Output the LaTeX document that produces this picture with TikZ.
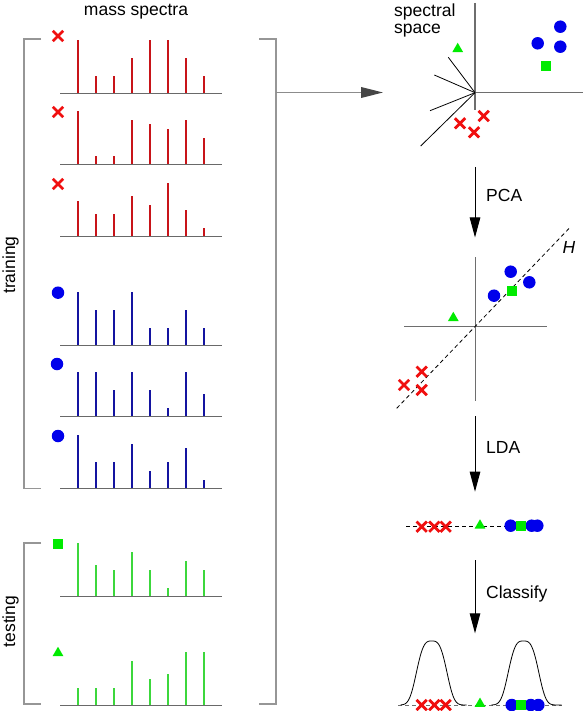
\documentclass[tikz,border=0pt]{standalone}
\usepackage{fontspec}
\setmainfont{Liberation Sans}
\usetikzlibrary{shapes.misc,shapes.geometric,arrows.meta}
\definecolor{specred}{RGB}{200,20,25}
\definecolor{mkred}{RGB}{240,15,15}
\definecolor{specblue}{RGB}{20,20,160}
\definecolor{mkblue}{RGB}{0,0,235}
\definecolor{specgreen}{RGB}{60,215,60}
\definecolor{mkgreen}{RGB}{0,235,0}
\definecolor{basegray}{RGB}{105,105,105}
\definecolor{brgray}{RGB}{150,150,150}
\definecolor{axgray}{RGB}{110,110,110}
\definecolor{arrgray}{RGB}{140,140,140}
\definecolor{headgray}{RGB}{70,70,70}
\newcommand\drawSpec[3]{%
  \foreach \h [count=\i] in {#3} \draw[#2, line width=1.4pt] ({60+18*\i},#1) -- ++(0,{-4.47*\h});
  \draw[specbase] (60,#1) -- (222,#1);
}
\tikzset{
  lbl/.style={font=\fontsize{17.5}{20}\selectfont, inner sep=0pt},
  specbase/.style={draw=basegray, line width=1.5pt},
  bracket/.style={draw=brgray, line width=1.3pt},
  axis/.style={draw=axgray, line width=1.5pt},
  ray/.style={draw=black, line width=0.8pt},
  hline/.style={draw=black, line width=0.8pt, dash pattern=on 4pt off 3pt},
  flow/.style={draw=black, line width=1pt, -{Triangle[length=20pt,width=10.5pt]}},
  graylink/.style={draw=arrgray, line width=1.3pt, -{Triangle[length=22pt,width=10.7pt,color=headgray]}},
  redx/.style={draw=mkred, cross out, line width=2.8pt, minimum size=7.5pt, inner sep=0pt},
  bdot/.style={circle, fill=mkblue, minimum size=12.5pt, inner sep=0pt},
  gsq/.style={rectangle, fill=mkgreen, minimum size=10pt, inner sep=0pt},
  gtri/.style={regular polygon, regular polygon sides=3, fill=mkgreen, minimum size=12.5pt, inner sep=0pt},
  gauss/.style={draw=black, line width=0.8pt},
}
\begin{document}
\begin{tikzpicture}[x=1pt,y=-1pt]
\useasboundingbox (0,0) rectangle (583,711);
% titles
\node[lbl, anchor=base] (title) at (136,16) {mass spectra};
\node[lbl, anchor=base, rotate=90] (train) at (15,265) {training};
\node[lbl, anchor=base, rotate=90] (test) at (15,621.5) {testing};
% brackets
\draw[bracket] (41,39) -- (24,39) -- (24,488.7) -- (41,488.7);
\draw[bracket] (41,543) -- (24,543) -- (24,704) -- (41,704);
\draw[bracket] (259,39) -- (276,39) -- (276,704) -- (259,704);
% spectra
\drawSpec{93.7}{specred}{12,4,4,8,12,12,8,4}
\drawSpec{164.7}{specred}{12,2,2,10,9,8,10,6}
\drawSpec{236.7}{specred}{8,5,5,9,7,12,6,2}
\drawSpec{345.7}{specblue}{12,8,8,12,4,4,8,4}
\drawSpec{416.7}{specblue}{10,10,6,10,6,2,10,5}
\drawSpec{488.7}{specblue}{12,6,6,10,4,6,9,2}
\drawSpec{596.7}{specgreen}{12,7,6,10,6,2,8,6}
\drawSpec{705.7}{specgreen}{4,4,4,10,6,7,12,12}
% spectrum markers
\node[redx] (s1) at (58,36) {};
\node[redx] (s2) at (58,112) {};
\node[redx] (s3) at (58,184) {};
\node[bdot] (s4) at (58,292.7) {};
\node[bdot] (s5) at (57,364) {};
\node[bdot] (s6) at (58,436) {};
\node[gsq] (s7) at (58,543.7) {};
\node[gtri] (s8) at (58,653) {};
% link arrow
\coordinate (brk) at (276,92.5);
\coordinate (ssp) at (383,92.5);
\draw[graylink] (brk) -- (ssp);
% panel 1: spectral space
\node[lbl, anchor=base west] (sp1) at (394,16.7) {spectral};
\node[lbl, anchor=base west] (sp2) at (394,33.3) {space};
\coordinate (o1) at (475,92.7);
\draw[axis] (475,3) -- (475,110);
\draw[axis] (o1) -- (583,92.7);
\draw[ray] (o1) -- (448.3,57.3);
\draw[ray] (o1) -- (434.3,75);
\draw[ray] (o1) -- (430,110.7);
\draw[ray] (o1) -- (420.7,146);
\node[gtri] (a1) at (457.7,49) {};
\node[bdot] (a2) at (560.3,26.7) {};
\node[bdot] (a3) at (537.7,43.3) {};
\node[bdot] (a4) at (560.3,46.7) {};
\node[gsq] (a5) at (545.7,65.7) {};
\node[redx] (a6) at (483.7,116) {};
\node[redx] (a7) at (460,123.3) {};
\node[redx] (a8) at (474,132.3) {};
% PCA arrow
\coordinate (p1s) at (475,167);
\coordinate (p1e) at (475,237.5);
\draw[flow] (p1s) -- (p1e);
\node[lbl, anchor=base west] (pca) at (486,201.7) {PCA};
% panel 2
\draw[axis] (404,326.7) -- (547.3,326.7);
\draw[axis] (475.7,257.3) -- (475.7,400.7);
\coordinate (h1) at (396.7,408.3);
\coordinate (h2) at (570.7,226.7);
\draw[hline] (h1) -- (h2);
\node[lbl, anchor=base, font=\fontsize{17.5}{20}\selectfont\itshape] (hl) at (569,253.3) {H};
\node[bdot] (b1) at (510.7,271.7) {};
\node[bdot] (b2) at (529.3,282.3) {};
\node[bdot] (b3) at (494,295.7) {};
\node[gsq] (b4) at (512,291) {};
\node[gtri] (b5) at (453.3,318) {};
\node[redx] (b6) at (421.7,371.7) {};
\node[redx] (b7) at (404,385) {};
\node[redx] (b8) at (421.7,390) {};
% LDA arrow
\coordinate (p2s) at (475,416);
\coordinate (p2e) at (475,491.7);
\draw[flow] (p2s) -- (p2e);
\node[lbl, anchor=base west] (lda) at (486,453.3) {LDA};
% panel 3
\coordinate (l1) at (406,526.7);
\coordinate (l2) at (545.7,526.7);
\draw[hline] (l1) -- (l2);
\node[redx] (c1) at (421.7,526.7) {};
\node[redx] (c2) at (434.3,526.7) {};
\node[redx] (c3) at (445.7,526.7) {};
\node[gtri] (c4) at (480,525.5) {};
\node[bdot] (c5) at (510.7,525.7) {};
\node[bdot] (c6) at (531.7,525.7) {};
\node[bdot] (c7) at (537.3,525.7) {};
\node[gsq] (c8) at (520.7,525.7) {};
% Classify arrow
\coordinate (p3s) at (475,560);
\coordinate (p3e) at (475,633.3);
\draw[flow] (p3s) -- (p3e);
\node[lbl, anchor=base west] (cls) at (486,598.3) {Classify};
% panel 4
\coordinate (g1) at (398,705);
\coordinate (g2) at (562,705);
\draw[draw=axgray, line width=0.8pt, dash pattern=on 4pt off 3pt] (g1) -- (g2);
\draw[gauss] plot[domain=-31:35, samples=91] ({431.7+\x},{705-64*exp(-((abs(\x)+0.001)/17.3)^3.2)});
\draw[gauss] plot[domain=-32:38, samples=91] ({523.5+\x},{705-64*exp(-((abs(\x)+0.001)/17.3)^3.2)});
\node[redx] (d1) at (421.7,705) {};
\node[redx] (d2) at (434.3,705) {};
\node[redx] (d3) at (445.7,705) {};
\node[gtri] (d4) at (480,703.8) {};
\node[bdot] (d5) at (511.7,705) {};
\node[bdot] (d6) at (530.7,705) {};
\node[bdot] (d7) at (538.3,705) {};
\node[gsq] (d8) at (521,705) {};
\end{tikzpicture}
\end{document}
